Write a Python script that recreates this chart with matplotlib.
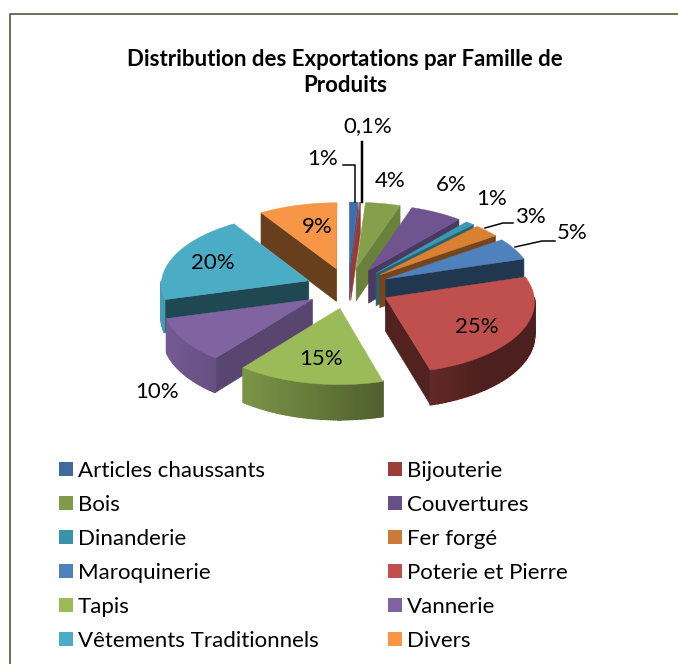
import numpy as np
import matplotlib
matplotlib.use("Agg")
import matplotlib.pyplot as plt
from matplotlib.patches import Polygon, Patch

plt.rcParams['font.family'] = ['Lato', 'DejaVu Sans']

# Donnees
familles = ["Articles chaussants", "Bijouterie", "Bois", "Couvertures", "Dinanderie",
            "Fer forgé", "Maroquinerie", "Poterie et Pierre", "Tapis", "Vannerie",
            "Vêtements Traditionnels", "Divers"]
valeurs = [1, 0.1, 4, 6, 1, 3, 5, 25, 15, 10, 20, 9]
etiquettes = ["1%", "0,1%", "4%", "6%", "1%", "3%", "5%", "25%", "15%", "10%", "20%", "9%"]
couleurs_face = ["#3f6fa8", "#b04542", "#84a04a", "#6f5490", "#3a9ab0", "#d98033",
                 "#4f81bd", "#c0504d", "#9bbb59", "#8064a2", "#4bacc6", "#f79646"]
couleurs_legende = ["#3e6a9c", "#9d3d3a", "#7f9b4a", "#684f86", "#3b92a8", "#cb7a37",
                    "#4f81bd", "#c0504d", "#9bbb59", "#8064a2", "#4bacc6", "#f79646"]

# Mise en page (pixels)
CX, CY = 348, 288
SX, SY = 148, 71.2
PERSP = 0.047
EPAIS = 33
ECART = 0.285
pos_etiquettes = [(323, 159), (368, 126), (390, 181), (451, 185), (492, 199), (530, 217),
                  (572, 233), (477, 327), (321, 359), (157, 392), (213, 263), (317, 227)]
guides = [[(343, 165), (355, 165), (355, 202)],
          [(362, 142), (362, 202)],
          [(485, 228), (503, 223), (513, 223)],
          [(515, 247), (542, 241), (555, 241)]]
epaisseurs_guides = [1.5, 2.5, 1.5, 1.5]


def projeter(x, y, bas=False):
    s = 1 - PERSP * y
    px = CX + x * SX * s
    py = CY - y * SY * s
    if bas:
        py = py + EPAIS * s
    return px, py


def assombrir(couleur, f):
    r, g, b = matplotlib.colors.to_rgb(couleur)
    return (r * f, g * f, b * f)


fig = plt.figure(figsize=(6.78, 6.64), dpi=100)
ax = fig.add_axes([0, 0, 1, 1])

wedges, _ = ax.pie(valeurs, explode=[ECART] * len(valeurs), startangle=90, counterclock=False)
secteurs = [(w.theta1, w.theta2, w.center, w.r) for w in wedges]
for w in wedges:
    w.remove()

ax.set_aspect('auto')
ax.set_xlim(0, 678)
ax.set_ylim(664, 0)
ax.axis('off')


def mi_angle(i):
    return np.radians((secteurs[i][0] + secteurs[i][1]) / 2)


# du fond vers l'avant
ordre = sorted(range(len(secteurs)), key=lambda i: -np.sin(mi_angle(i)))
z = 2
for i in ordre:
    t1, t2, (xc, yc), r = secteurs[i]
    coul = couleurs_face[i]
    angles = np.radians(np.linspace(t1, t2, 60))
    xs = xc + r * np.cos(angles)
    ys = yc + r * np.sin(angles)

    # faces radiales
    for xr, yr, normale in [(xs[0], ys[0], t1 - 90), (xs[-1], ys[-1], t2 + 90)]:
        if np.sin(np.radians(normale)) < 0:
            nx = np.cos(np.radians(normale))
            f = 0.42 + 0.7 * max(0, nx - 0.4)
            quad = [projeter(xc, yc), projeter(xr, yr), projeter(xr, yr, True), projeter(xc, yc, True)]
            ax.add_patch(Polygon(quad, closed=True, facecolor=assombrir(coul, f),
                                 edgecolor=assombrir(coul, f), linewidth=0.4, zorder=z))
            z += 1

    # bord exterieur, avec degrade
    for k in range(len(angles) - 1):
        am = (angles[k] + angles[k + 1]) / 2
        if np.sin(am) < 0:
            f = max(0.4, 0.6 - 0.32 * np.cos(am))
            quad = [projeter(xs[k], ys[k]), projeter(xs[k + 1], ys[k + 1]),
                    projeter(xs[k + 1], ys[k + 1], True), projeter(xs[k], ys[k], True)]
            ax.add_patch(Polygon(quad, closed=True, facecolor=assombrir(coul, f),
                                 edgecolor=assombrir(coul, f), linewidth=1.2, zorder=z))
            z += 1

    # dessus
    dessus = [projeter(xc, yc)] + [projeter(a, b) for a, b in zip(xs, ys)]
    ax.add_patch(Polygon(dessus, closed=True, facecolor=coul, edgecolor=coul, linewidth=0.3, zorder=z))
    z += 1

for (x, y), txt in zip(pos_etiquettes, etiquettes):
    ax.text(x, y, txt, fontsize=16, ha='center', va='center', color='black', zorder=1000)

for g, lw in zip(guides, epaisseurs_guides):
    ax.plot([p[0] for p in g], [p[1] for p in g], color='black', lw=lw * 0.72,
            solid_joinstyle='miter', zorder=900)

ax.text(345, 72.5, "Distribution des Exportations par Famille de\nProduits", fontsize=16,
        fontweight='bold', ha='center', va='center', linespacing=1.35, zorder=1000)

# cadre
ax.plot([10, 10, 678], [664, 14, 14], color='#55553a', lw=1.2, zorder=1)

# legende lue ligne par ligne
poignees = [Patch(facecolor=c, edgecolor='none') for c in couleurs_legende]
ordre_leg = list(range(0, 12, 2)) + list(range(1, 12, 2))
ax.legend([poignees[i] for i in ordre_leg], [familles[i] for i in ordre_leg], ncol=2,
          loc='upper left', bbox_to_anchor=(59 / 678, 1 - 461 / 664), frameon=False,
          fontsize=16, handlelength=0.63, handleheight=0.63, handletextpad=0.23,
          labelspacing=0.63, columnspacing=3.1, borderpad=0, borderaxespad=0)

plt.savefig("out.png", dpi=100)
plt.close()
